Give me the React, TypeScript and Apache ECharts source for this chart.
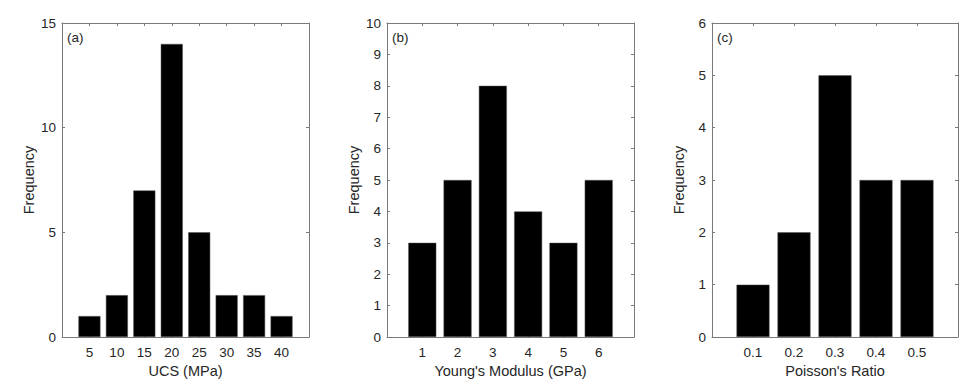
import React, { useEffect, useRef } from "react";
import * as echarts from "echarts";

const ucsBins = [5, 10, 15, 20, 25, 30, 35, 40];
const ucsFreq = [1, 2, 7, 14, 5, 2, 2, 1];
const ymBins = [1, 2, 3, 4, 5, 6];
const ymFreq = [3, 5, 8, 4, 3, 5];
const prBins = [0.1, 0.2, 0.3, 0.4, 0.5];
const prFreq = [1, 2, 5, 3, 3];

const panelLabels = ["(a)", "(b)", "(c)"];
const xNames = ["UCS (MPa)", "Young's Modulus (GPa)", "Poisson's Ratio"];

const AXIS = "#7a7a7a";
const TXT = "#262626";
const FONT = "Liberation Sans, Arial, sans-serif";

export default function App() {
  const ref = useRef<HTMLDivElement>(null);
  useEffect(() => {
    if (!ref.current) return;
    const chart = echarts.init(ref.current, null, { renderer: "svg" });

    const panels = [
      { bins: ucsBins, freq: ucsFreq, xmax: 45, xint: 5, ymax: 15, yint: 5, bw: 22, left: 62, width: 247 },
      { bins: ymBins, freq: ymFreq, xmax: 7, xint: 1, ymax: 10, yint: 1, bw: 28, left: 387, width: 247 },
      { bins: prBins, freq: prFreq, xmax: 0.6, xint: 0.1, ymax: 6, yint: 1, bw: 33, left: 712, width: 246 },
    ];

    const grid: any[] = [];
    const xAxis: any[] = [];
    const yAxis: any[] = [];
    const series: any[] = [];
    const graphic: any[] = [];

    panels.forEach((p, i) => {
      grid.push({ left: p.left, top: 23, width: p.width, height: 314 });
      const line = { show: true, onZero: false, lineStyle: { color: AXIS, width: 1 } };
      const tick = { show: true, inside: true, length: 3, lineStyle: { color: AXIS } };
      xAxis.push({
        type: "value", gridIndex: i, position: "bottom", min: 0, max: p.xmax, interval: p.xint,
        axisLine: line, axisTick: tick, splitLine: { show: false },
        axisLabel: {
          color: TXT, fontFamily: FONT, fontSize: 13.5, margin: 8,
          formatter: (v: number) => (Math.abs(v) < 1e-9 || Math.abs(v - p.xmax) < 1e-9 ? "" : String(+v.toFixed(3))),
        },
        name: xNames[i], nameLocation: "middle", nameGap: 21,
        nameTextStyle: { color: TXT, fontFamily: FONT, fontSize: 14.5 },
      });
      xAxis.push({
        type: "value", gridIndex: i, position: "top", min: 0, max: p.xmax, interval: p.xint,
        axisLine: line, axisTick: tick, splitLine: { show: false }, axisLabel: { show: false },
      });
      yAxis.push({
        type: "value", gridIndex: i, position: "left", min: 0, max: p.ymax, interval: p.yint,
        axisLine: line, axisTick: tick, splitLine: { show: false },
        axisLabel: { color: TXT, fontFamily: FONT, fontSize: 13.5, margin: 6 },
        name: "Frequency", nameLocation: "middle", nameGap: 26,
        nameTextStyle: { color: TXT, fontFamily: FONT, fontSize: 14.5 },
      });
      yAxis.push({
        type: "value", gridIndex: i, position: "right", min: 0, max: p.ymax, interval: p.yint,
        axisLine: line, axisTick: tick, splitLine: { show: false }, axisLabel: { show: false },
      });
      series.push({
        type: "bar", xAxisIndex: i * 2, yAxisIndex: i * 2, barWidth: p.bw,
        data: p.bins.map((b, k) => [b, p.freq[k]]),
        itemStyle: { color: "#000000", borderColor: "#555555", borderWidth: 0.5 },
      });
      graphic.push({
        type: "text", left: p.left + 5, top: 30,
        style: { text: panelLabels[i], fill: TXT, font: `13.5px ${FONT}` },
      });
    });

    chart.setOption({ animation: false, backgroundColor: "#ffffff", grid, xAxis, yAxis, series, graphic });
    return () => chart.dispose();
  }, []);

  return <div ref={ref} style={{ position: "fixed", left: 0, top: 0, width: 970, height: 384 }} />;
}
